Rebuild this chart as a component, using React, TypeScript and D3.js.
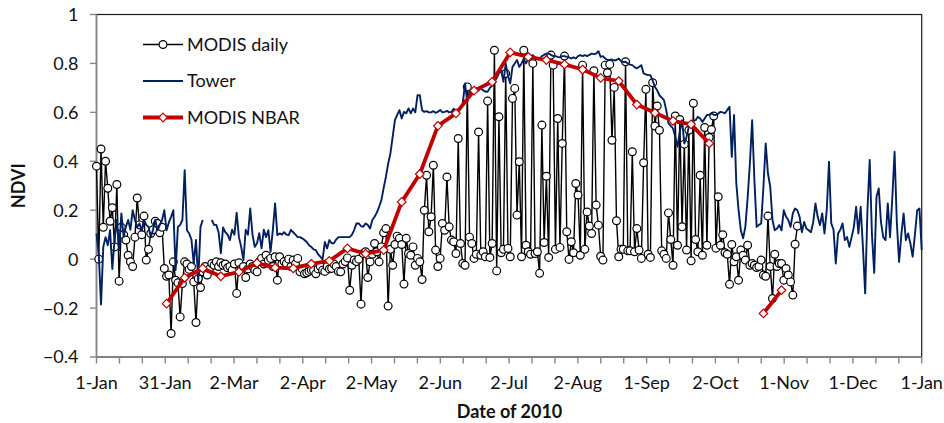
import React from "react";
import * as d3 from "d3";

// Day-of-year (0 = 1 Jan 2010) daily MODIS NDVI, starting 1 Jan
const modisDaily: number[] = [
  0.38, 0.0, 0.45, 0.13, 0.4, 0.29, 0.155, 0.21, 0.05, 0.305,
  -0.09, 0.13, 0.1, 0.078, 0.016, -0.011, -0.03, 0.09, 0.25, 0.14,
  0.1, 0.176, -0.004, 0.04, 0.105, 0.12, 0.155, 0.146, 0.108, 0.13,
  -0.038, -0.07, -0.065, -0.304, -0.011, -0.086, -0.097, -0.236, -0.1, -0.011,
  -0.02, -0.042, -0.03, -0.093, -0.259, -0.08, -0.116, -0.052, -0.03, -0.065,
  -0.04, -0.018, -0.025, -0.011, -0.03, -0.015, -0.025, -0.02, -0.035, -0.03,
  -0.045, -0.02, -0.14, -0.015, -0.04, -0.03, -0.075, -0.04, -0.02, -0.03,
  -0.045, -0.052, -0.01, 0.003, -0.02, 0.016, -0.005, 0.003, -0.03, 0.01,
  -0.086, 0.01, -0.02, -0.01, -0.018, 0.0, -0.03, -0.004, -0.02, 0.003,
  -0.052, -0.04, -0.06, -0.056, -0.05, -0.045, -0.045, -0.06, -0.04, -0.03,
  -0.045, -0.05, -0.03, -0.04, -0.038, -0.02, -0.03, -0.05, -0.052, -0.02,
  -0.01, 0.005, -0.127, -0.025, -0.004, -0.01, 0.0, -0.184, 0.023, 0.03,
  -0.075, -0.011, 0.02, 0.064, 0.03, -0.011, 0.05, 0.108, 0.125, -0.192,
  0.04, -0.025, 0.06, 0.094, 0.085, 0.06, -0.102, 0.085, 0.023, 0.016,
  0.05, -0.025, 0.003, -0.011, -0.083, 0.2, 0.343, 0.112, 0.173, 0.384,
  0.037, -0.03, 0.003, 0.146, 0.118, 0.336, 0.132, 0.078, 0.071, 0.023,
  0.493, 0.064, -0.018, -0.025, 0.704, 0.09, 0.064, 0.003, 0.02, 0.52,
  0.016, 0.03, 0.01, 0.646, 0.007, 0.064, 0.854, -0.048, 0.582, 0.026,
  0.04, 0.759, 0.044, 0.01, 0.657, 0.698, 0.18, 0.398, 0.01, 0.854,
  0.057, 0.03, 0.02, 0.8, 0.023, 0.03, -0.058, 0.548, 0.068, 0.339,
  0.007, 0.834, 0.793, 0.04, 0.575, 0.048, 0.473, 0.83, 0.112, -0.001,
  0.071, 0.026, 0.309, 0.262, 0.016, 0.793, 0.04, 0.193, 0.135, 0.105,
  0.77, 0.221, 0.139, 0.012, -0.004, 0.793, 0.762, 0.796, 0.486, 0.702,
  0.157, 0.01, 0.04, 0.04, 0.807, 0.034, 0.034, 0.439, 0.03, 0.125,
  0.037, 0.003, 0.394, 0.694, 0.02, 0.007, 0.721, 0.544, 0.626, 0.527,
  0.034, 0.02, 0.003, 0.189, 0.08, -0.025, 0.585, 0.057, 0.571, 0.132,
  0.47, 0.037, 0.527, -0.007, 0.637, 0.08, 0.03, 0.343, 0.016, 0.538,
  0.057, 0.497, 0.53, 0.585, 0.045, 0.255, 0.057, 0.1, 0.026, 0.02,
  -0.103, 0.06, -0.011, 0.01, -0.086, 0.037, 0.016, -0.004, 0.057, -0.025,
  -0.018, -0.025, -0.034, -0.03, -0.004, -0.065, -0.07, 0.176, -0.03, -0.161,
  0.02, -0.03, -0.018, -0.018, -0.086, -0.038, -0.065, -0.093, -0.147, 0.061,
  0.135,
];

// Daily tower NDVI, 1 Jan 2010 through 1 Jan 2011 (null = no record)
const towerDaily: (number | null)[] = [
  0.105, 0.02, -0.185, 0.05, 0.09, 0.057, 0.118, -0.04, 0.08, 0.16,
  0.037, 0.187, 0.09, 0.132, 0.16, 0.12, 0.2, 0.16, 0.13, 0.146,
  0.118, 0.16, 0.14, 0.132, 0.09, 0.12, 0.16, 0.118, 0.14, 0.16,
  0.2, 0.118, 0.15, 0.173, 0.2, -0.045, 0.132, 0.14, 0.16, 0.364,
  0.118, 0.105, 0.08, -0.018, 0.078, -0.09, 0.132, 0.16, null, null,
  null, 0.16, 0.14, 0.14, 0.11, 0.024, 0.13, 0.11, 0.1, 0.078,
  0.12, 0.1, 0.19, 0.09, 0.05, -0.004, 0.12, 0.1, 0.207, 0.1,
  0.05, 0.065, 0.106, 0.044, 0.12, 0.09, 0.118, 0.03, 0.12, 0.228,
  0.098, 0.105, 0.1, 0.11, 0.1, 0.098, 0.12, 0.11, 0.1, 0.09,
  0.09, 0.085, 0.078, 0.07, 0.057, 0.05, 0.04, 0.037, 0.02, 0.01,
  -0.001, 0.07, 0.044, 0.078, 0.065, 0.065, 0.08, 0.09, 0.09, 0.09,
  0.09, 0.09, 0.09, 0.1, 0.12, 0.146, 0.146, 0.135, 0.132, 0.146,
  0.14, 0.125, 0.16, 0.173, 0.19, 0.214, 0.24, 0.29, 0.336, 0.39,
  0.432, 0.5, 0.568, 0.59, 0.609, 0.575, 0.602, 0.596, 0.616, 0.596,
  0.616, 0.6, 0.67, 0.67, 0.609, 0.602, 0.605, 0.6, 0.6, 0.605,
  0.598, 0.602, 0.61, 0.6, 0.602, 0.606, 0.6, 0.602, 0.615, 0.6,
  0.61, 0.62, 0.637, 0.718, 0.643, 0.69, 0.68, 0.677, 0.685, 0.69,
  0.698, 0.69, 0.685, 0.684, 0.7, 0.71, 0.725, 0.74, 0.759, 0.773,
  0.725, 0.8, 0.75, 0.718, 0.786, 0.8, 0.814, 0.786, 0.8, 0.82,
  0.8, 0.82, 0.83, 0.834, 0.825, 0.82, 0.82, 0.83, 0.835, 0.84,
  0.84, 0.835, 0.83, 0.83, 0.827, 0.825, 0.83, 0.83, 0.827, 0.825,
  0.82, 0.825, 0.82, 0.83, 0.834, 0.83, 0.834, 0.83, 0.835, 0.84,
  0.838, 0.84, 0.85, 0.827, 0.83, 0.82, 0.814, 0.814, 0.816, 0.812,
  0.814, 0.82, 0.81, 0.805, 0.807, 0.8, 0.795, 0.793, 0.785, 0.78,
  0.786, 0.793, 0.759, 0.755, 0.752, 0.752, 0.73, 0.704, 0.69, 0.67,
  0.66, 0.65, 0.609, 0.555, 0.545, 0.534, 0.5, 0.459, 0.52, 0.568,
  0.473, 0.5, 0.541, 0.55, 0.565, 0.568, 0.582, 0.575, 0.561, 0.575,
  0.589, 0.59, 0.596, 0.59, 0.589, 0.595, 0.602, 0.6, 0.596, 0.61,
  0.623, 0.418, 0.589, 0.31, 0.2, 0.118, 0.085, 0.132, 0.25, 0.39,
  0.568, 0.323, 0.132, 0.14, 0.146, 0.297, 0.473, 0.35, 0.297, 0.16,
  0.118, 0.125, 0.139, 0.118, 0.2, 0.173, 0.16, 0.132, 0.187, 0.207,
  0.2, 0.173, 0.11, 0.152, 0.125, 0.118, 0.11, 0.15, 0.228, 0.173,
  0.139, 0.187, 0.105, 0.2, 0.398, 0.146, 0.12, -0.018, 0.105, 0.12,
  0.146, 0.078, 0.09, 0.05, 0.09, 0.132, 0.214, 0.105, 0.214, 0.05,
  -0.14, 0.2, 0.405, 0.1, -0.056, 0.255, 0.289, 0.15, 0.09, 0.078,
  0.228, 0.09, 0.25, 0.439, 0.15, -0.011, 0.1, 0.187, 0.078, 0.105,
  0.064, 0.01, 0.1, 0.2, 0.207, 0.037,
];

// 8-day MODIS NBAR NDVI composites
const nbarDoy: number[] = [
  31, 39, 47, 55, 63, 71, 79, 87, 95, 103, 111, 119, 127, 135, 143, 151, 159, 167,
  175, 183, 191, 199, 207, 215, 223, 231, 239, 247, 255, 263, 271, 279, 287, 295, 303,
];
const nbarNdvi: (number | null)[] = [
  -0.182, -0.076, -0.038, -0.07, -0.052, -0.016, -0.035, -0.038, -0.019, -0.007,
  0.044, 0.022, 0.037, 0.234, 0.348, 0.545, 0.596, 0.689, 0.725, 0.845,
  0.827, 0.814, 0.796, 0.775, 0.741, 0.728, 0.632, 0.598, 0.565, 0.551,
  0.473, null, null, -0.222, -0.127,
];

const yTicks: number[] = [-0.4, -0.2, 0, 0.2, 0.4, 0.6, 0.8, 1];
const xTickLabels: string[] = [
  "1-Jan", "31-Jan", "2-Mar", "2-Apr", "2-May", "2-Jun", "2-Jul",
  "2-Aug", "1-Sep", "2-Oct", "1-Nov", "1-Dec", "1-Jan",
];
const legendLabels: string[] = ["MODIS daily", "Tower", "MODIS NBAR"];

const W = 944;
const H = 423;
const PL = 96.5;
const PR = 921.7;
const PT = 14.5;
const PB = 357;
const FONT = "Lato, Carlito, Calibri, sans-serif";
const NAVY = "#002060";
const RED = "#c00000";
const AXIS = "#868686";
const DOT_R = 3.9;

function diamond(cx: number, cy: number, r: number) {
  return `M${cx},${cy - r}L${cx + r},${cy}L${cx},${cy + r}L${cx - r},${cy}Z`;
}

export default function App() {
  const x = d3.scaleLinear().domain([0, 365]).range([PL, PR]);
  const y = d3.scaleLinear().domain([-0.4, 1]).range([PB, PT]);

  const daily = modisDaily.map((v, i) => ({ d: i, v }));
  const tower = towerDaily.map((v, i) => ({ d: i, v }));
  const nbar = nbarDoy.map((d, i) => ({ d, v: nbarNdvi[i] }));

  const line = d3
    .line<{ d: number; v: number | null }>()
    .defined((p) => p.v !== null)
    .x((p) => x(p.d))
    .y((p) => y(p.v as number));

  const minorStep = 365 / 36;
  const minorTicks = d3.range(0, 37).map((k) => k * minorStep);
  const majorTicks = xTickLabels.map((lab, k) => ({ lab, d: k * (365 / 12) }));

  const fmt = (v: number) => (v === 0 ? "0" : d3.format("")(+v.toFixed(1)));

  const legendY = [44.5, 81, 117.5];

  return (
    <svg
      width={W}
      height={H}
      style={{ position: "absolute", left: 0, top: 0, background: "#fff" }}
      fontFamily={FONT}
    >
      <rect x={0} y={0} width={W} height={H} fill="#fff" />

      {/* plot frame */}
      <rect x={PL} y={PT} width={PR - PL} height={PB - PT} fill="none" stroke="#1a1a1a" strokeWidth={1.2} />
      <line x1={PL} x2={PL} y1={PT} y2={PB} stroke={AXIS} strokeWidth={1.6} />
      <line x1={PL} x2={PR} y1={PB} y2={PB} stroke={AXIS} strokeWidth={1.6} />

      {/* y axis ticks and labels */}
      {yTicks.map((t) => (
        <g key={"y" + t}>
          <line x1={PL - 6.5} x2={PL} y1={y(t)} y2={y(t)} stroke={AXIS} strokeWidth={1.4} />
          <text x={78.5} y={y(t)} dy="0.36em" textAnchor="end" fontSize={18} fill="#111">
            {fmt(t)}
          </text>
        </g>
      ))}

      {/* x axis ticks and labels */}
      {minorTicks.map((d, i) => (
        <line key={"xt" + i} x1={x(d)} x2={x(d)} y1={PB} y2={PB + 6.5} stroke={AXIS} strokeWidth={1.4} />
      ))}
      {majorTicks.map((t, i) => (
        <text key={"xl" + i} x={x(t.d)} y={389} textAnchor="middle" fontSize={18} fill="#111">
          {t.lab}
        </text>
      ))}

      {/* axis titles */}
      <text x={(PL + PR) / 2 + 0.5} y={418} textAnchor="middle" fontSize={18} fontWeight="bold" fill="#111">
        Date of 2010
      </text>
      <text
        transform={`translate(25,${(PT + PB) / 2}) rotate(-90)`}
        textAnchor="middle"
        fontSize={18}
        fontWeight="bold"
        fill="#111"
      >
        NDVI
      </text>

      {/* MODIS daily */}
      <path d={line(daily) || ""} fill="none" stroke="#000" strokeWidth={1.4} strokeLinejoin="round" />
      {daily.map((p) => (
        <circle key={"c" + p.d} cx={x(p.d)} cy={y(p.v)} r={DOT_R} fill="#fff" stroke="#000" strokeWidth={1.2} />
      ))}

      {/* Tower */}
      <path d={line(tower) || ""} fill="none" stroke={NAVY} strokeWidth={1.9} strokeLinejoin="round" />

      {/* MODIS NBAR */}
      <path d={line(nbar) || ""} fill="none" stroke={RED} strokeWidth={3.8} strokeLinejoin="round" />
      {nbar
        .filter((p) => p.v !== null)
        .map((p) => (
          <path key={"n" + p.d} d={diamond(x(p.d), y(p.v as number), 4.3)} fill="#fff" stroke={RED} strokeWidth={1.2} />
        ))}

      {/* legend */}
      <g>
        <line x1={143} x2={183} y1={legendY[0]} y2={legendY[0]} stroke="#000" strokeWidth={1.4} />
        <circle cx={163} cy={legendY[0]} r={DOT_R} fill="#fff" stroke="#000" strokeWidth={1.2} />
        <line x1={143} x2={183} y1={legendY[1]} y2={legendY[1]} stroke={NAVY} strokeWidth={1.9} />
        <line x1={143} x2={183} y1={legendY[2]} y2={legendY[2]} stroke={RED} strokeWidth={3.8} />
        <path d={diamond(163, legendY[2], 4.3)} fill="#fff" stroke={RED} strokeWidth={1.2} />
        {legendLabels.map((lab, i) => (
          <text key={lab} x={187} y={legendY[i]} dy="0.36em" fontSize={18} fill="#111">
            {lab}
          </text>
        ))}
      </g>
    </svg>
  );
}
